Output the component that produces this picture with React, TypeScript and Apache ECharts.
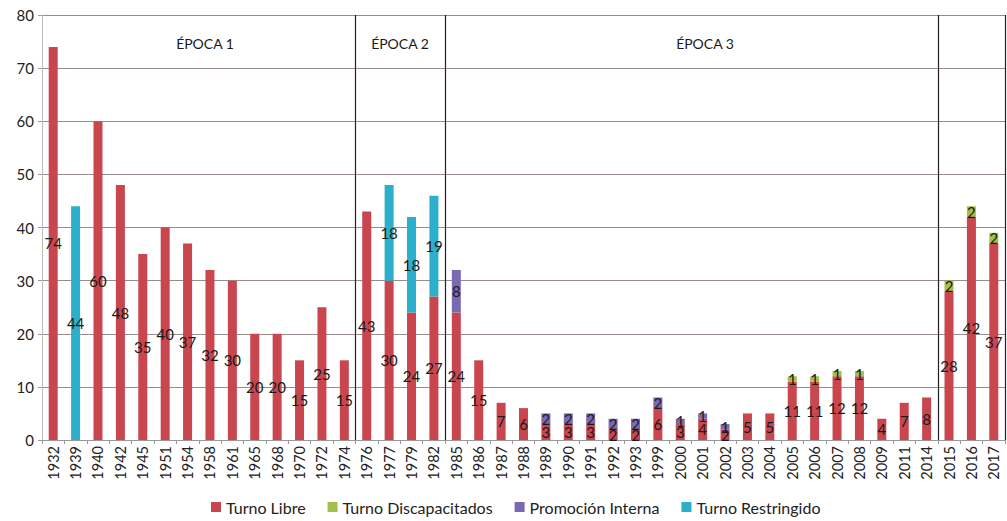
import React, { useEffect, useRef } from "react";
import * as echarts from "echarts";

const years = ["1932","1939","1940","1942","1945","1951","1954","1958","1961","1965","1968","1970","1972","1974","1976","1977","1979","1982","1985","1986","1987","1988","1989","1990","1991","1992","1993","1999","2000","2001","2002","2003","2004","2005","2006","2007","2008","2009","2011","2014","2015","2016","2017"];

const turnoLibre = [74,null,60,48,35,40,37,32,30,20,20,15,25,15,43,30,24,27,24,15,7,6,3,3,3,2,2,6,3,4,2,5,5,11,11,12,12,4,7,8,28,42,37];
const turnoDiscapacitados = [null,null,null,null,null,null,null,null,null,null,null,null,null,null,null,null,null,null,null,null,null,null,null,null,null,null,null,null,null,null,null,null,null,1,1,1,1,null,null,null,2,2,2];
const promocionInterna = [null,null,null,null,null,null,null,null,null,null,null,null,null,null,null,null,null,null,8,null,null,null,2,2,2,2,2,2,1,1,1,null,null,null,null,null,null,null,null,null,null,null,null];
const turnoRestringido = [null,44,null,null,null,null,null,null,null,null,null,null,null,null,null,18,18,19,null,null,null,null,null,null,null,null,null,null,null,null,null,null,null,null,null,null,null,null,null,null,null,null,null];

const epochStarts = ["1976", "1985", "2015"];
const epochLabels = [
  { text: "ÉPOCA 1", x: 205 },
  { text: "ÉPOCA 2", x: 400 },
  { text: "ÉPOCA 3", x: 705 },
];

const FONT = "Lato, 'Open Sans', sans-serif";

export default function App() {
  const ref = useRef<HTMLDivElement>(null);
  useEffect(() => {
    if (!ref.current) return;
    const chart = echarts.init(ref.current, null, { renderer: "svg" });
    const label = {
      show: true,
      position: "inside",
      color: "#1a1a1a",
      fontSize: 15,
      fontFamily: FONT,
    };
    const mk = (name: string, data: (number | null)[], color: string) => ({
      name,
      type: "bar",
      stack: "total",
      data,
      barWidth: 9,
      itemStyle: { color },
      label,
    });
    chart.setOption({
      animation: false,
      textStyle: { fontFamily: FONT },
      grid: { left: 42, right: 2, top: 15, bottom: 81, containLabel: false },
      legend: {
        bottom: 1,
        left: 206,
        itemWidth: 10,
        itemHeight: 10,
        itemGap: 22,
        icon: "rect",
        textStyle: { fontSize: 16, color: "#222", fontFamily: FONT },
        data: ["Turno Libre", "Turno Discapacitados", "Promoción Interna", "Turno Restringido"],
      },
      xAxis: {
        type: "category",
        data: years,
        axisLine: { lineStyle: { color: "#999" } },
        axisTick: { show: true, length: 4, lineStyle: { color: "#999" } },
        axisLabel: { rotate: 90, fontSize: 14.5, color: "#222", interval: 0, margin: 6 },
        splitLine: {
          show: true,
          interval: (_i: number, v: string) => epochStarts.includes(v),
          lineStyle: { color: "#222", width: 1.2 },
        },
      },
      yAxis: {
        type: "value",
        min: 0,
        max: 80,
        interval: 10,
        axisLine: { show: true, lineStyle: { color: "#bbb" } },
        axisTick: { show: true, length: 4, lineStyle: { color: "#999" } },
        axisLabel: { fontSize: 15, color: "#222", margin: 8 },
        splitLine: { lineStyle: { color: "#9a8c8c", width: 1.2 } },
      },
      graphic: epochLabels.map((e) => ({
        type: "text",
        x: e.x,
        y: 43,
        style: {
          text: e.text,
          fontSize: 14,
          fontFamily: FONT,
          fill: "#1a1a1a",
          align: "center",
          verticalAlign: "middle",
        },
      })),
      series: [
        mk("Turno Libre", turnoLibre, "#C9464F"),
        mk("Turno Discapacitados", turnoDiscapacitados, "#A3C04A"),
        mk("Promoción Interna", promocionInterna, "#7B68B5"),
        mk("Turno Restringido", turnoRestringido, "#2BAFCB"),
      ],
    });
    return () => chart.dispose();
  }, []);
  return (
    <div
      ref={ref}
      style={{ position: "fixed", left: 0, top: 0, width: 1007, height: 521, background: "#fff" }}
    />
  );
}
